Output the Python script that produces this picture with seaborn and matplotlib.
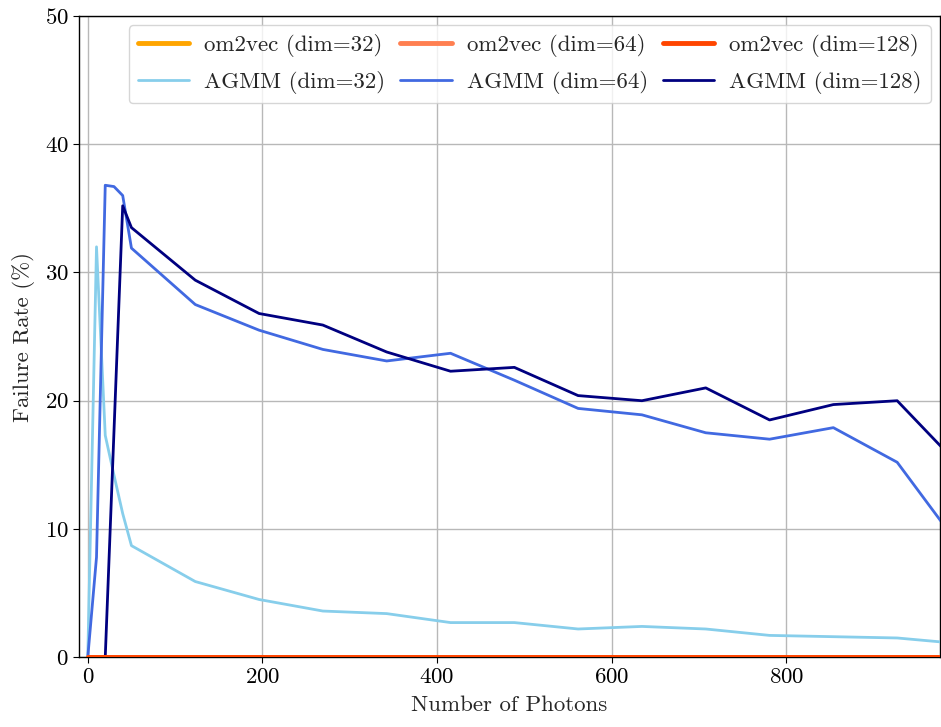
import matplotlib
matplotlib.use("Agg")
import matplotlib.pyplot as plt
import seaborn as sns

# photon counts (x) and failure rates (%)
photons = [0, 10, 20, 30, 40, 50, 123.1, 196.2, 269.2, 342.3, 415.4, 488.5,
           561.5, 634.6, 707.7, 780.8, 853.8, 926.9, 1000]

om2vec_32 = [0.0] * len(photons)
om2vec_64 = [0.0] * len(photons)
om2vec_128 = [0.0] * len(photons)

agmm_32 = [0.0, 32.0, 17.3, 14.2, 11.2, 8.7, 5.9, 4.5, 3.6, 3.4, 2.7, 2.7,
           2.2, 2.4, 2.2, 1.7, 1.6, 1.5, 1.05]
agmm_64 = [0.0, 7.8, 36.8, 36.7, 36.0, 31.9, 27.5, 25.5, 24.0, 23.1, 23.7, 21.6,
           19.4, 18.9, 17.5, 17.0, 17.9, 15.2, 8.5]
agmm_128 = [0.0, 0.0, 0.0, 17.6, 35.2, 33.5, 29.4, 26.8, 25.9, 23.8, 22.3, 22.6,
            20.4, 20.0, 21.0, 18.5, 19.7, 20.0, 14.8]

dims = ["32", "64", "128"]
om2vec_series = [om2vec_32, om2vec_64, om2vec_128]
agmm_series = [agmm_32, agmm_64, agmm_128]
om2vec_colors = ["orange", "coral", "orangered"]
agmm_colors = ["skyblue", "royalblue", "navy"]


def setup_style():
    sns.set_style("whitegrid")
    plt.rcParams.update({
        "font.family": "serif",
        "font.serif": ["cmr10"],
        "mathtext.fontset": "cm",
        "axes.formatter.use_mathtext": True,
        "axes.edgecolor": "black",
        "axes.linewidth": 1.0,
        "grid.color": "#b8b8b8",
        "grid.linewidth": 1.0,
        "xtick.bottom": True,
        "ytick.left": True,
        "xtick.major.size": 4,
        "ytick.major.size": 4,
        "xtick.color": "black",
        "ytick.color": "black",
    })


def main():
    setup_style()
    fig, ax = plt.subplots(figsize=(9.41, 7.27), dpi=100)

    # interleave so the 3-column legend puts om2vec on row 1, AGMM on row 2
    for d, om, ag, oc, ac in zip(dims, om2vec_series, agmm_series,
                                 om2vec_colors, agmm_colors):
        sns.lineplot(x=photons, y=om, ax=ax, color=oc, linewidth=3.5,
                     label=f"om2vec (dim={d})", zorder=5)
        sns.lineplot(x=photons, y=ag, ax=ax, color=ac, linewidth=2.0,
                     label=f"AGMM (dim={d})", zorder=3)

    ax.set_xlim(-10, 976)
    ax.set_ylim(0, 50)
    ax.set_xticks([0, 200, 400, 600, 800])
    ax.set_yticks([0, 10, 20, 30, 40, 50])
    ax.tick_params(labelsize=16.5)
    ax.set_xlabel("Number of Photons", fontsize=16.5, labelpad=6)
    ax.set_ylabel("Failure Rate (%)", fontsize=16.5, labelpad=7)

    ax.legend(ncol=3, loc="upper right", fontsize=16.5, frameon=True,
              framealpha=0.8, edgecolor="#cccccc", columnspacing=0.65,
              handlelength=2.25, handletextpad=0.65, labelspacing=0.6,
              borderaxespad=0.4)

    fig.subplots_adjust(left=0.084, right=0.999, top=0.978, bottom=0.096)
    fig.savefig("out.png", dpi=100)


if __name__ == "__main__":
    main()
